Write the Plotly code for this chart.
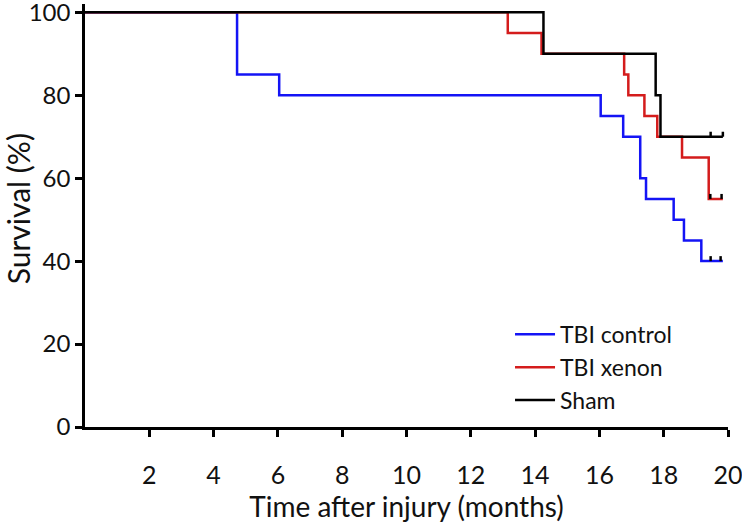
import plotly.graph_objects as go

# Kaplan-Meier step data (months, survival %)
ctrl_times = [0, 4.73, 6.04, 16.04, 16.74, 17.27, 17.45, 18.31, 18.63, 19.17, 19.84]
ctrl_surv = [100, 85, 80, 75, 70, 60, 55, 50, 45, 40, 40]
ctrl_cens_t = [19.46, 19.77]
ctrl_cens_s = [40, 40]

xen_times = [0, 13.15, 14.2, 16.77, 16.9, 17.4, 17.8, 18.57, 19.4, 19.84]
xen_surv = [100, 95, 90, 85, 80, 75, 70, 65, 55, 55]
xen_cens_t = [19.45, 19.8]
xen_cens_s = [55, 55]

sham_times = [0, 14.26, 17.75, 17.9, 19.84]
sham_surv = [100, 90, 80, 70, 70]
sham_cens_t = [19.46, 19.84]
sham_cens_s = [70, 70]

names = ["TBI control", "TBI xenon", "Sham"]
colors = ["#1414f5", "#d41c1c", "#000000"]

x_ticks = [2, 4, 6, 8, 10, 12, 14, 16, 18, 20]
y_ticks = [0, 20, 40, 60, 80, 100]

FONT = "Lato, Carlito, Calibri, sans-serif"

fig = go.Figure()
groups = [
    (ctrl_times, ctrl_surv, ctrl_cens_t, ctrl_cens_s),
    (xen_times, xen_surv, xen_cens_t, xen_cens_s),
    (sham_times, sham_surv, sham_cens_t, sham_cens_s),
]
for i, (t, s, ct, cs) in enumerate(groups):
    fig.add_trace(go.Scatter(
        x=t, y=s, mode="lines", line_shape="hv",
        line=dict(color=colors[i], width=2.5),
        name=names[i], legendgroup=names[i],
    ))
for i, (t, s, ct, cs) in enumerate(groups):
    fig.add_trace(go.Scatter(
        x=ct, y=cs, mode="markers",
        marker=dict(size=0.1, color=colors[2]),
        error_y=dict(type="data", symmetric=False, array=[1.2] * len(ct),
                     arrayminus=[0] * len(ct), width=0, thickness=2.5,
                     color="#000000"),
        showlegend=False, hoverinfo="skip",
    ))

fig.update_layout(
    width=742, height=523,
    margin=dict(l=85, r=14, t=4, b=96),
    paper_bgcolor="white", plot_bgcolor="white",
    font=dict(family=FONT, color="#111111", size=23),
    showlegend=True,
    legend=dict(x=0.661, y=0.27, xanchor="left", yanchor="top",
                bgcolor="rgba(0,0,0,0)", font=dict(size=23, family=FONT),
                tracegroupgap=0, itemwidth=40),
    annotations=[dict(
        text="Survival (%)", textangle=-90, showarrow=False,
        xref="paper", yref="paper", x=-0.104, y=0.515,
        xanchor="center", yanchor="middle",
        font=dict(size=30, family=FONT, color="#111111"),
    )],
)
fig.update_xaxes(
    range=[0, 20], tickvals=x_ticks, ticktext=[str(v) for v in x_ticks],
    showline=True, linecolor="black", linewidth=2.5,
    ticks="outside", ticklen=7, tickwidth=2.5, tickcolor="black",
    showgrid=False, zeroline=False, automargin=False,
    tickfont=dict(size=25, family=FONT), ticklabelstandoff=17,
    ticklabeloverflow="allow",
    title=dict(text="Time after injury (months)", font=dict(size=28, family=FONT), standoff=11),
)
fig.update_yaxes(
    range=[0, 102], tickvals=y_ticks, ticktext=[str(v) for v in y_ticks],
    showline=True, linecolor="black", linewidth=2.5,
    ticks="outside", ticklen=7, tickwidth=2.5, tickcolor="black",
    showgrid=False, zeroline=False, automargin=False,
    tickfont=dict(size=24, family=FONT), ticklabeloverflow="allow",
)

fig.write_html("out.html", config={"displayModeBar": False},
               post_script="document.body.style.margin='0';")
